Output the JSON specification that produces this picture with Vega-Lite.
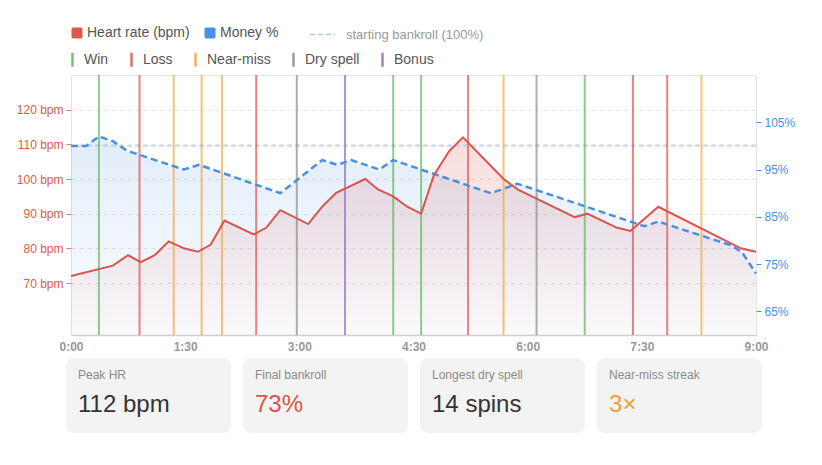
{
  "$schema": "https://vega.github.io/schema/vega-lite/v6.json",
  "padding": {"left": 15, "top": 20, "right": 5, "bottom": 5},
  "config": {"font": "Liberation Sans", "view": {"stroke": "#e4e4e4"}},
  "bounds": "flush",
  "spacing": 23,
  "datasets": {
    "hr": [
      {"t": 0, "bpm": 72}, {"t": 33, "bpm": 75}, {"t": 45, "bpm": 78}, {"t": 55, "bpm": 76},
      {"t": 66, "bpm": 78}, {"t": 77, "bpm": 82}, {"t": 89, "bpm": 80}, {"t": 100, "bpm": 79},
      {"t": 110, "bpm": 81}, {"t": 121, "bpm": 88}, {"t": 144, "bpm": 84}, {"t": 154, "bpm": 86},
      {"t": 165, "bpm": 91}, {"t": 187, "bpm": 87}, {"t": 198, "bpm": 92}, {"t": 209, "bpm": 96},
      {"t": 232, "bpm": 100}, {"t": 242, "bpm": 97}, {"t": 254, "bpm": 95}, {"t": 265, "bpm": 92},
      {"t": 276, "bpm": 90}, {"t": 286, "bpm": 101}, {"t": 298, "bpm": 108}, {"t": 309, "bpm": 112},
      {"t": 341, "bpm": 100}, {"t": 352, "bpm": 97}, {"t": 397, "bpm": 89}, {"t": 407, "bpm": 90},
      {"t": 430, "bpm": 86}, {"t": 441, "bpm": 85}, {"t": 463, "bpm": 92}, {"t": 528, "bpm": 80},
      {"t": 540, "bpm": 79}
    ],
    "money": [
      {"t": 0, "pct": 100}, {"t": 12, "pct": 100}, {"t": 22, "pct": 102}, {"t": 33, "pct": 101},
      {"t": 44, "pct": 99}, {"t": 89, "pct": 95}, {"t": 101, "pct": 96}, {"t": 165, "pct": 90},
      {"t": 198, "pct": 97}, {"t": 210, "pct": 96}, {"t": 221, "pct": 97}, {"t": 243, "pct": 95},
      {"t": 254, "pct": 97}, {"t": 276, "pct": 95}, {"t": 331, "pct": 90}, {"t": 352, "pct": 92},
      {"t": 452, "pct": 83}, {"t": 463, "pct": 84}, {"t": 520, "pct": 79}, {"t": 529, "pct": 77.5},
      {"t": 540, "pct": 73}
    ],
    "bankroll": [{"label": "starting bankroll (100%)", "pct": 100}],
    "events": [
      {"t": 22, "event": "Win"}, {"t": 54, "event": "Loss"}, {"t": 81, "event": "Near-miss"},
      {"t": 103, "event": "Near-miss"}, {"t": 119, "event": "Near-miss"}, {"t": 146, "event": "Loss"},
      {"t": 178, "event": "Dry spell"}, {"t": 216, "event": "Bonus"}, {"t": 254, "event": "Win"},
      {"t": 276, "event": "Win"}, {"t": 313, "event": "Loss"}, {"t": 341, "event": "Near-miss"},
      {"t": 367, "event": "Dry spell"}, {"t": 405, "event": "Win"}, {"t": 443, "event": "Loss"},
      {"t": 470, "event": "Loss"}, {"t": 497, "event": "Near-miss"}
    ],
    "cards": [
      {"stat": "Peak HR", "value": "112 bpm"},
      {"stat": "Final bankroll", "value": "73%"},
      {"stat": "Longest dry spell", "value": "14 spins"},
      {"stat": "Near-miss streak", "value": "3×"}
    ]
  },
  "resolve": {
    "scale": {"color": "independent", "stroke": "independent", "strokeDash": "independent"},
    "legend": {"color": "independent", "stroke": "independent", "strokeDash": "independent"}
  },
  "vconcat": [
    {
      "width": 685,
      "height": 260,
      "layer": [
        {
          "data": {"name": "money"},
          "mark": {
            "type": "area",
            "fill": {"gradient": "linear", "x1": 0, "y1": 0, "x2": 0, "y2": 1,
              "stops": [{"offset": 0, "color": "rgba(74,144,226,0.16)"}, {"offset": 1, "color": "rgba(74,144,226,0.02)"}]}
          },
          "encoding": {
            "x": {"field": "t", "type": "quantitative", "scale": {"domain": [0, 540], "nice": false},
              "axis": {"values": [0, 90, 180, 270, 360, 450, 540], "title": null,
                "labelExpr": "floor(datum.value / 60) + ':' + (datum.value % 60 < 10 ? '0' : '') + (datum.value % 60)",
                "ticks": false, "labelPadding": 6, "labelFlush": false, "labelFontWeight": "bold",
                "labelColor": "#999", "labelFontSize": 12, "domainColor": "#cfcfcf", "domainWidth": 1.5, "grid": false}},
            "y": {"field": "pct", "type": "quantitative", "scale": {"domain": [60, 115], "nice": false, "zero": false}, "axis": null},
            "y2": {"datum": 60}
          }
        },
        {
          "data": {"name": "hr"},
          "mark": {
            "type": "area",
            "fill": {"gradient": "linear", "x1": 0, "y1": 0, "x2": 0, "y2": 1,
              "stops": [{"offset": 0, "color": "rgba(217,83,79,0.2)"}, {"offset": 1, "color": "rgba(217,83,79,0.02)"}]}
          },
          "encoding": {
            "x": {"field": "t", "type": "quantitative"},
            "y": {"field": "bpm", "type": "quantitative", "scale": {"domain": [55, 130], "nice": false, "zero": false},
              "axis": {"orient": "left", "values": [70, 80, 90, 100, 110, 120], "title": null,
                "labelExpr": "datum.value + ' bpm'", "domain": false, "tickSize": 5, "tickColor": "#e27b70",
                "labelColor": "#dc5a4c", "labelFontSize": 12, "labelPadding": 3,
                "grid": true, "gridDash": [4, 4], "gridColor": "#e4e4e4"}},
            "y2": {"datum": 55}
          }
        },
        {
          "data": {"name": "bankroll"},
          "mark": {"type": "rule", "color": "#b7d0ee", "strokeWidth": 1.5},
          "encoding": {
            "y": {"field": "pct", "type": "quantitative", "scale": {"domain": [60, 115], "nice": false, "zero": false}, "axis": null},
            "strokeDash": {"field": "label", "type": "nominal", "scale": {"range": [[5, 3]]},
              "legend": {"orient": "none", "legendX": 238, "legendY": -54, "title": null,
                "symbolType": "stroke", "symbolSize": 625, "symbolStrokeColor": "#a9c8ec", "symbolStrokeWidth": 1.5,
                "labelColor": "#999", "labelFontSize": 13, "labelOffset": 10}}
          }
        },
        {
          "data": {"name": "events"},
          "mark": {"type": "rule", "strokeWidth": 2, "opacity": 0.7},
          "encoding": {
            "x": {"field": "t", "type": "quantitative"},
            "stroke": {"field": "event", "type": "nominal",
              "scale": {"domain": ["Win", "Loss", "Near-miss", "Dry spell", "Bonus"],
                "range": ["#5cb85c", "#d9534f", "#f0a93c", "#8c8c8c", "#8e6bbf"]},
              "legend": {"orient": "none", "legendX": -7, "legendY": -24, "title": null, "direction": "horizontal",
                "symbolType": "M0,-1L0,1", "symbolSize": 196, "symbolStrokeWidth": 2.5, "symbolOpacity": 0.85,
                "labelColor": "#555", "labelFontSize": 14, "labelOffset": 3, "columnPadding": 14}}
          }
        },
        {
          "data": {"name": "money"},
          "mark": {"type": "line", "strokeWidth": 2.5, "strokeDash": [7, 4]},
          "encoding": {
            "x": {"field": "t", "type": "quantitative"},
            "y": {"field": "pct", "type": "quantitative", "scale": {"domain": [60, 115], "nice": false, "zero": false},
              "axis": {"orient": "right", "values": [65, 75, 85, 95, 105], "title": null,
                "labelExpr": "datum.value + '%'", "domain": false, "tickSize": 5, "tickColor": "#4a90e2",
                "labelColor": "#4a90e2", "labelFontSize": 12, "labelPadding": 3, "grid": false}},
            "color": {"datum": "Money %", "type": "nominal",
              "scale": {"domain": ["Heart rate (bpm)", "Money %"], "range": ["#d9534f", "#4a90e2"]},
              "legend": {"orient": "none", "legendX": -1, "legendY": -49, "title": null, "direction": "horizontal",
                "symbolType": "M-0.7,-1L0.7,-1Q1,-1 1,-0.7L1,0.7Q1,1 0.7,1L-0.7,1Q-1,1 -1,0.7L-1,-0.7Q-1,-1 -0.7,-1Z",
                "symbolSize": 121, "symbolStrokeWidth": 0,
                "labelColor": "#555", "labelFontSize": 14, "labelOffset": 3, "columnPadding": 13,
                "encode": {"symbols": {"update": {
                  "fill": {"signal": "datum.value == 'Money %' ? '#4a90e2' : '#dc5a4c'"},
                  "fillOpacity": {"value": 1},
                  "strokeWidth": {"value": 0}}}}}}
          }
        },
        {
          "data": {"name": "hr"},
          "mark": {"type": "line", "strokeWidth": 2},
          "encoding": {
            "x": {"field": "t", "type": "quantitative"},
            "y": {"field": "bpm", "type": "quantitative", "scale": {"domain": [55, 130], "nice": false, "zero": false}, "axis": null},
            "color": {"datum": "Heart rate (bpm)", "type": "nominal"}
          }
        }
      ],
      "resolve": {"scale": {"y": "independent"}, "axis": {"y": "independent"}}
    },
    {
      "width": 696,
      "height": 75,
      "data": {"name": "cards"},
      "view": {"stroke": null},
      "encoding": {
        "x": {"field": "stat", "type": "nominal", "sort": null, "axis": null,
          "scale": {"paddingInner": 0.068, "paddingOuter": 0}}
      },
      "layer": [
        {"mark": {"type": "rect", "color": "#f3f3f3", "cornerRadius": 8, "xOffset": -5, "x2Offset": -5}},
        {
          "mark": {"type": "text", "align": "left", "baseline": "middle", "dx": 7, "dy": -21, "fontSize": 12, "color": "#8a8a8a"},
          "encoding": {
            "x": {"field": "stat", "type": "nominal", "sort": null, "bandPosition": 0},
            "text": {"field": "stat"}
          }
        },
        {
          "mark": {"type": "text", "align": "left", "baseline": "middle", "dx": 7, "dy": 9.5, "fontSize": 24},
          "encoding": {
            "x": {"field": "stat", "type": "nominal", "sort": null, "bandPosition": 0},
            "text": {"field": "value"},
            "color": {"field": "stat", "type": "nominal",
              "scale": {"domain": ["Peak HR", "Final bankroll", "Longest dry spell", "Near-miss streak"],
                "range": ["#333333", "#dc5443", "#333333", "#eea236"]},
              "legend": null}
          }
        }
      ]
    }
  ]
}
